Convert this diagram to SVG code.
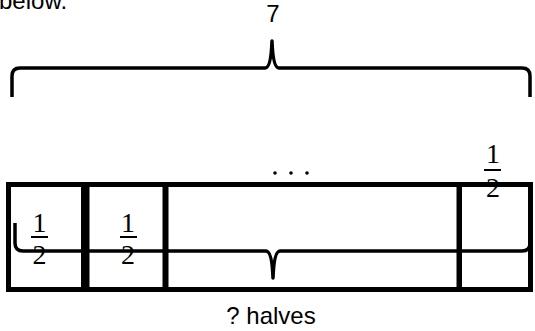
<svg xmlns="http://www.w3.org/2000/svg" width="535" height="331" viewBox="0 0 535 331">
<style>
.box{fill:none;stroke:#000;stroke-width:5}
.brace{fill:none;stroke:#000;stroke-width:3.5;stroke-linejoin:round}
.lbl{font-family:"Liberation Sans",Arial,sans-serif;font-size:24px;fill:#000}
.frac{font-family:"Liberation Serif","Times New Roman",serif;font-size:28px;fill:#000;text-anchor:middle}
.bar{stroke:#000;stroke-width:2}
</style>
<rect width="535" height="331" fill="#fff"/>
<text class="lbl" x="-1" y="9">below.</text>
<text class="lbl" x="273" y="22" text-anchor="middle">7</text>
<g id="box1">
<rect class="box" x="8.5" y="184.5" width="75" height="105"/>
<text class="frac" x="39.5" y="232">1</text>
<line class="bar" x1="31" y1="237" x2="48" y2="237"/>
<text class="frac" x="39.5" y="264">2</text>
</g>
<g id="box2">
<rect class="box" x="87" y="184.5" width="78" height="105"/>
<text class="frac" x="128" y="232">1</text>
<line class="bar" x1="120" y1="237" x2="137" y2="237"/>
<text class="frac" x="128" y="264">2</text>
</g>
<g id="box3">
<rect class="box" x="166" y="184.5" width="293" height="105"/>
<circle cx="275" cy="173" r="1.8"/>
<circle cx="291" cy="173" r="1.8"/>
<circle cx="307" cy="173" r="1.8"/>
</g>
<g id="box4">
<rect class="box" x="459.5" y="184.5" width="71" height="105"/>
<text class="frac" x="493" y="163">1</text>
<line class="bar" x1="484" y1="170" x2="501" y2="170"/>
<text class="frac" x="493" y="197">2</text>
</g>
<g id="connectors">
<path class="brace" d="M12,97 L12,76 Q12,68 20,68 L265,68 Q271,68 272,41 Q273,68 279,68 L522,68 Q530,68 530,76 L530,97"/>
<path class="brace" d="M15,223 L15,243 Q15,251 23,251 L266,251 Q272,251 273,278 Q274,251 280,251 L522,251 Q530,251 530,243 L530,223"/>
</g>
<text class="lbl" x="271" y="324" text-anchor="middle">? halves</text>
</svg>
